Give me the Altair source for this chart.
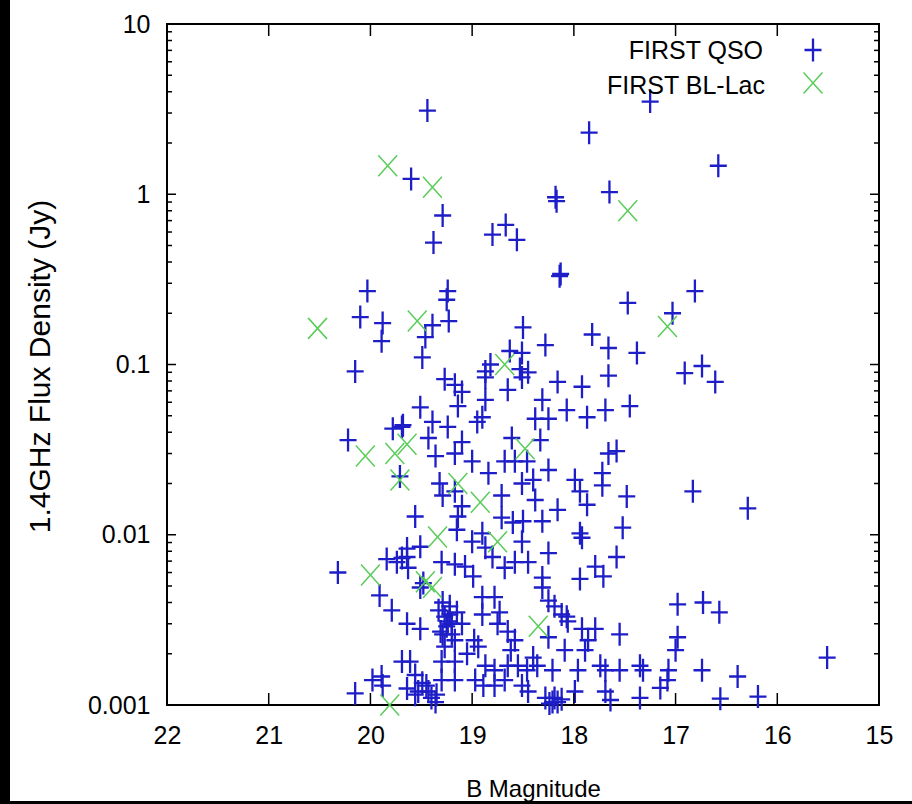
import altair as alt
import pandas as pd

# ---------------- data ----------------
qso_mag = [19.44, 17.25, 17.85, 16.58, 19.60, 17.65, 18.17, 18.18, 19.29, 18.67,
           18.80, 18.56, 19.38, 18.13, 18.14, 20.03, 19.24, 19.25, 16.81, 17.47,
           17.03, 20.10, 19.88, 19.89, 19.23, 19.39, 19.46, 19.49, 18.50, 18.28,
           17.82, 17.66, 17.38, 18.63, 18.51, 20.15, 18.82, 18.87, 18.53, 18.45,
           17.66, 16.91, 16.74, 16.61, 19.27, 19.17, 19.10, 18.87, 18.65, 18.51,
           18.16, 17.92, 19.51, 19.14, 18.87, 18.31, 18.07, 17.87, 17.69, 17.45,
           19.69, 19.39, 19.24, 18.95, 18.90, 18.38, 18.25, 19.43, 19.10, 18.61,
           18.33, 19.36, 19.17, 19.00, 18.68, 18.58, 18.46, 18.25, 18.84, 19.71,
           19.32, 19.17, 19.10, 19.14, 18.71, 18.51, 18.40, 18.38, 17.99, 17.94,
           17.72, 17.72, 17.87, 18.16, 19.56, 18.71, 18.60, 18.50, 18.31, 17.94,
           18.90, 19.15, 17.66, 17.58, 20.22, 19.78, 19.68, 17.48, 17.52, 16.83,
           16.29, 19.51, 19.00, 18.87, 18.51, 18.45, 18.25, 17.92, 19.69, 19.63,
           19.30, 19.17, 19.07, 18.99, 18.68, 18.58, 18.31, 17.79, 17.71, 17.58,
           19.51, 19.48, 19.29, 19.22, 19.27, 19.20, 19.29, 19.10, 19.51, 18.90,
           18.78, 18.90, 18.75, 18.65, 18.58, 18.31, 18.25, 18.19, 18.12, 18.06,
           18.25, 17.92, 17.79, 17.86, 17.89, 18.09, 19.69, 19.61, 19.30, 19.17,
           18.94, 18.87, 18.78, 18.65, 18.55, 18.46, 18.36, 18.21, 17.96, 17.69,
           19.56, 19.49, 19.43, 19.35, 19.30, 19.17, 18.97, 18.89, 18.78, 18.68,
           18.51, 18.45, 18.28, 18.21, 18.16, 17.99, 17.69, 19.36, 19.56, 20.15,
           19.98, 19.89, 19.88, 19.64, 20.32, 19.84, 19.74, 19.64, 19.91, 19.79,
           19.64, 16.98, 16.73, 16.57, 16.98, 17.00, 17.32, 17.07, 17.08, 17.15,
           16.74, 16.39, 16.56, 16.19, 15.51, 17.35, 17.35, 17.64, 19.29, 19.64,
           18.80, 17.94, 19.22, 19.15, 19.25, 19.17, 19.27, 18.73, 18.07, 17.74,
           17.55, 17.55, 19.33, 19.24, 19.31, 19.20, 19.45, 19.40, 19.53, 18.24,
           18.19, 18.12, 18.40, 18.62, 19.05, 18.98]
qso_flux = [3.1, 3.5, 2.3, 1.47, 1.23, 1.03, 0.91, 0.96, 0.75, 0.66,
            0.58, 0.54, 0.52, 0.34, 0.33, 0.27, 0.27, 0.24, 0.27, 0.23,
            0.20, 0.19, 0.175, 0.137, 0.18, 0.17, 0.145, 0.11, 0.165, 0.13,
            0.15, 0.125, 0.117, 0.12, 0.117, 0.091, 0.10, 0.091, 0.094, 0.09,
            0.086, 0.089, 0.098, 0.079, 0.082, 0.076, 0.069, 0.084, 0.071, 0.084,
            0.079, 0.074, 0.056, 0.057, 0.062, 0.062, 0.054, 0.049, 0.054, 0.057,
            0.043, 0.046, 0.043, 0.046, 0.049, 0.048, 0.048, 0.037, 0.035, 0.037,
            0.036, 0.029, 0.030, 0.027, 0.027, 0.027, 0.027, 0.024, 0.023, 0.022,
            0.020, 0.018, 0.0147, 0.0128, 0.017, 0.020, 0.021, 0.016, 0.021, 0.018,
            0.023, 0.0195, 0.015, 0.014, 0.0128, 0.0126, 0.0118, 0.012, 0.012, 0.0102,
            0.0102, 0.0107, 0.030, 0.031, 0.036, 0.042, 0.044, 0.0168, 0.011, 0.018,
            0.0143, 0.0085, 0.0091, 0.0084, 0.0091, 0.0069, 0.0078, 0.0096, 0.0073, 0.0064,
            0.0069, 0.0067, 0.0065, 0.0057, 0.0064, 0.0069, 0.0056, 0.0065, 0.0057, 0.0074,
            0.0049, 0.0052, 0.0040, 0.0038, 0.0033, 0.0030, 0.0026, 0.0030, 0.0028, 0.0043,
            0.0043, 0.0034, 0.0030, 0.0027, 0.0024, 0.0049, 0.0041, 0.0038, 0.0034, 0.0031,
            0.0025, 0.0028, 0.0028, 0.0024, 0.0021, 0.0021, 0.0018, 0.0018, 0.0018, 0.0018,
            0.0022, 0.0017, 0.0016, 0.0017, 0.0017, 0.0016, 0.0017, 0.0016, 0.0016, 0.0016,
            0.0015, 0.00135, 0.0012, 0.00115, 0.0014, 0.0014, 0.0014, 0.0013, 0.0013, 0.0014,
            0.0013, 0.0012, 0.0011, 0.00104, 0.00104, 0.0012, 0.0012, 0.00104, 0.00115, 0.00117,
            0.0014, 0.00147, 0.0013, 0.00125, 0.0060, 0.0072, 0.0069, 0.0074, 0.0044, 0.0036,
            0.0030, 0.0039, 0.0040, 0.0035, 0.0025, 0.0021, 0.0016, 0.0016, 0.0014, 0.00126,
            0.0016, 0.00147, 0.00109, 0.00112, 0.0019, 0.0011, 0.0017, 0.00107, 0.017, 0.0083,
            0.0074, 0.0055, 0.0034, 0.0035, 0.0029, 0.0024, 0.0022, 0.0035, 0.0033, 0.0017,
            0.0016, 0.0026, 0.0036, 0.0031, 0.0027, 0.0026, 0.0013, 0.0011, 0.0012, 0.00102,
            0.0011, 0.00108, 0.0019, 0.0021, 0.0020, 0.0024]

bl_mag = [19.83, 19.39, 17.47, 20.52, 19.54, 17.08, 18.68, 19.64, 18.48, 20.05,
          19.76, 19.71, 19.14, 18.92, 19.34, 18.75, 20.00, 19.46, 19.39, 18.35, 19.81]
bl_flux = [1.47, 1.1, 0.8, 0.163, 0.18, 0.167, 0.10, 0.034, 0.032, 0.029,
           0.030, 0.021, 0.020, 0.0155, 0.0097, 0.0091, 0.0058, 0.0053, 0.0049, 0.0029, 0.001]

series_labels = ["FIRST QSO", "FIRST BL-Lac"]
x_ticks = [22, 21, 20, 19, 18, 17, 16, 15]
y_ticks = [0.001, 0.01, 0.1, 1, 10]
y_minor = [m * 10.0 ** e for e in (-3, -2, -1, 0) for m in range(2, 10)]

# ---------------- styling ----------------
W, H = 712, 681
FONT = "Liberation Sans"
BLUE = "#1e1ec8"
GREEN = "#5acc5a"
PLUS = "M-0.74,0L0.74,0M0,-1L0,1"
CROSS = "M-0.9,-1L0.9,1M0.9,-1L-0.9,1"

xs = alt.Scale(domain=[22, 15], nice=False, zero=False)
ys = alt.Scale(type="log", domain=[0.001, 10], nice=False)

x_axis = alt.Axis(values=x_ticks, format="d", ticks=False, domain=False, grid=False,
                  labelFont=FONT, labelFontSize=25, labelColor="black", labelPadding=18,
                  labelFlush=False, labelOverlap=False,
                  title="B Magnitude", titleFont=FONT, titleFontSize=24,
                  titleFontWeight="normal", titleColor="black", titleY=84,
                  titleX=366, titleBaseline="middle")
y_axis = alt.Axis(values=y_ticks, format="~g", ticks=False, domain=False, grid=False,
                  labelFont=FONT, labelFontSize=25, labelColor="black", labelPadding=17,
                  labelOverlap=False, labelFlush=False,
                  title="1.4GHz Flux Density (Jy)", titleFont=FONT, titleFontSize=30,
                  titleFontWeight="normal", titleColor="black", titleX=-127, titleY=342,
                  titleBaseline="middle")


def X():
    return alt.X("mag:Q", scale=xs, axis=x_axis)


def Y():
    return alt.Y("flux:Q", scale=ys, axis=y_axis)


qso_df = pd.DataFrame({"mag": qso_mag, "flux": qso_flux})
bl_df = pd.DataFrame({"mag": bl_mag, "flux": bl_flux})
xt_df = pd.DataFrame({"mag": x_ticks})
yt_df = pd.DataFrame({"flux": y_ticks})
ym_df = pd.DataFrame({"flux": y_minor})

qso = alt.Chart(qso_df).mark_point(shape=PLUS, filled=False, size=529, strokeWidth=2.3,
                                   color=BLUE, opacity=1).encode(x=X(), y=Y())
bl = alt.Chart(bl_df).mark_point(shape=CROSS, filled=False, size=441, strokeWidth=1.5,
                                 color=GREEN, opacity=1).encode(x=X(), y=Y())

tick_style = dict(color="black", strokeWidth=1.5)
xt_bottom = alt.Chart(xt_df).mark_rule(**tick_style).encode(x=X(), y=alt.value(H), y2=alt.value(H - 12))
xt_top = alt.Chart(xt_df).mark_rule(**tick_style).encode(x=X(), y=alt.value(0), y2=alt.value(12))
yt_left = alt.Chart(yt_df).mark_rule(**tick_style).encode(y=Y(), x=alt.value(0), x2=alt.value(9))
yt_right = alt.Chart(yt_df).mark_rule(**tick_style).encode(y=Y(), x=alt.value(W), x2=alt.value(W - 9))
ym_left = alt.Chart(ym_df).mark_rule(**tick_style).encode(y=Y(), x=alt.value(0), x2=alt.value(5))
ym_right = alt.Chart(ym_df).mark_rule(**tick_style).encode(y=Y(), x=alt.value(W), x2=alt.value(W - 5))

# legend (inside, top right, gnuplot style: label then symbol)
leg_q_df = pd.DataFrame({"label": [series_labels[0]]})
leg_b_df = pd.DataFrame({"label": [series_labels[1]]})
leg_text_q = alt.Chart(leg_q_df).mark_text(align="right", baseline="middle", font=FONT,
                                           fontSize=25, color="black").encode(
    text="label:N", x=alt.value(596), y=alt.value(27))
leg_text_b = alt.Chart(leg_b_df).mark_text(align="right", baseline="middle", font=FONT,
                                           fontSize=25, color="black").encode(
    text="label:N", x=alt.value(598), y=alt.value(62))
leg_sym_q = alt.Chart(leg_q_df).mark_point(shape=PLUS, filled=False, size=529, strokeWidth=2.3,
                                           color=BLUE, opacity=1).encode(
    x=alt.value(646), y=alt.value(26))
leg_sym_b = alt.Chart(leg_b_df).mark_point(shape=CROSS, filled=False, size=441, strokeWidth=1.5,
                                           color=GREEN, opacity=1).encode(
    x=alt.value(646), y=alt.value(59))

# dark picture border (left and bottom edges of the original image)
edge_df = pd.DataFrame({"k": [0]})
edge_left = alt.Chart(edge_df).mark_rect(color="black").encode(
    x=alt.value(-167), x2=alt.value(-157), y=alt.value(-24), y2=alt.value(780))
edge_bottom = alt.Chart(edge_df).mark_rect(color="black").encode(
    x=alt.value(-167), x2=alt.value(745), y=alt.value(777), y2=alt.value(780))

chart = alt.layer(
    qso, bl, xt_bottom, xt_top, yt_left, yt_right, ym_left, ym_right,
    leg_text_q, leg_text_b, leg_sym_q, leg_sym_b, edge_left, edge_bottom
).properties(
    width=W, height=H,
    padding={"left": 167, "top": 24, "right": 33, "bottom": 99},
    autosize=alt.AutoSizeParams(type="none"),
    background="white",
).configure_view(stroke="black", strokeWidth=2)

chart.save("out.html", embed_options={"renderer": "svg", "actions": False})
